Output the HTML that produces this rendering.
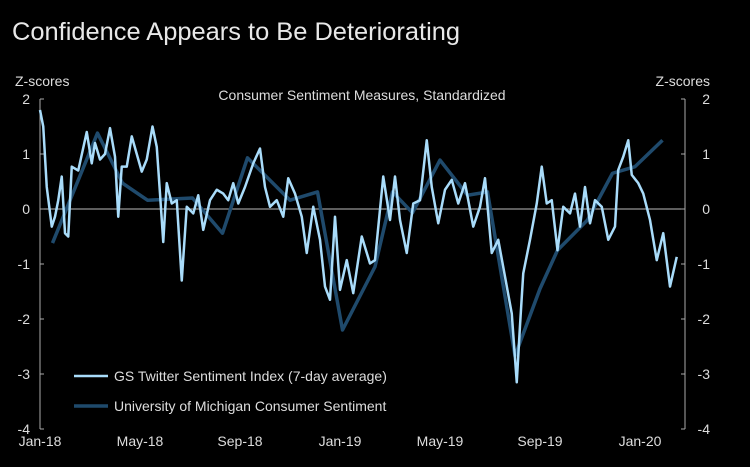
<!DOCTYPE html>
<html><head><meta charset="utf-8"><style>
body{margin:0;background:#000;}
svg{display:block;font-family:"Liberation Sans",sans-serif;}
</style></head><body>
<svg id="c" width="750" height="467" viewBox="0 0 750 467">
<rect width="750" height="467" fill="#000"/>
<text x="12" y="40" fill="#e8e8e8" font-size="25" textLength="448" lengthAdjust="spacingAndGlyphs">Confidence Appears to Be Deteriorating</text>
<text x="15" y="86" fill="#ddd" font-size="14">Z-scores</text>
<text x="710" y="86" fill="#ddd" font-size="14" text-anchor="end">Z-scores</text>
<text x="362" y="100" fill="#ddd" font-size="14" text-anchor="middle">Consumer Sentiment Measures, Standardized</text>
<g id="axes"></g>
<g id="series"></g>
<g>
<line x1="74" y1="376" x2="108" y2="376" stroke="#a9dcfa" stroke-width="2.5"/>
<text x="114" y="381" fill="#ddd" font-size="14">GS Twitter Sentiment Index (7-day average)</text>
<line x1="74" y1="406" x2="108" y2="406" stroke="#1f4a6c" stroke-width="3.5"/>
<text x="114" y="411" fill="#ddd" font-size="14">University of Michigan Consumer Sentiment</text>
</g>
</svg>
<script>
const yTicks=[2,1,0,-1,-2,-3,-4];
const xTickLabels=["Jan-18","May-18","Sep-18","Jan-19","May-19","Sep-19","Jan-20"];
const xTickMonths=[0,4,8,12,16,20,24];
const twMonths=[0,0.13,0.27,0.47,0.6,0.73,0.87,1.0,1.13,1.27,1.53,1.87,2.07,2.2,2.4,2.6,2.8,3.0,3.13,3.27,3.47,3.67,3.87,4.07,4.27,4.5,4.67,4.8,4.93,5.07,5.27,5.47,5.67,5.87,6.13,6.33,6.53,6.8,7.07,7.33,7.53,7.73,7.93,8.2,8.53,8.8,9.0,9.2,9.47,9.73,9.93,10.2,10.47,10.67,10.93,11.2,11.4,11.6,11.8,12.0,12.27,12.53,12.87,13.2,13.4,13.73,14.0,14.2,14.4,14.67,14.93,15.2,15.47,15.67,15.93,16.2,16.47,16.73,17.0,17.33,17.6,17.8,18.07,18.33,18.6,18.87,19.07,19.2,19.33,19.6,19.87,20.07,20.27,20.47,20.7,20.93,21.2,21.4,21.6,21.8,22.0,22.2,22.47,22.73,23.0,23.13,23.33,23.53,23.67,23.93,24.13,24.4,24.67,24.93,25.2,25.47];
const twValues=[1.8,1.5,0.4,-0.32,-0.14,0.16,0.59,-0.44,-0.5,0.77,0.7,1.4,0.83,1.2,0.9,1.0,1.47,0.95,-0.14,0.77,0.77,1.32,1.0,0.68,0.9,1.5,1.13,0.28,-0.6,0.47,0.1,0.16,-1.3,0.04,-0.08,0.25,-0.38,0.16,0.35,0.28,0.16,0.47,0.1,0.4,0.83,1.1,0.4,0.04,0.16,-0.14,0.56,0.28,-0.14,-0.8,0.04,-0.56,-1.41,-1.65,-0.14,-1.47,-0.93,-1.53,-0.5,-0.99,-0.93,0.59,-0.2,0.59,-0.2,-0.8,0.1,0.16,1.25,0.4,-0.26,0.35,0.53,0.1,0.47,-0.32,0.04,0.56,-0.8,-0.56,-1.23,-1.9,-3.15,-2.12,-1.17,-0.56,0.1,0.77,0.1,0.16,-0.75,0.04,-0.08,0.28,-0.32,0.4,-0.26,0.16,0.04,-0.56,-0.32,0.71,0.95,1.25,0.62,0.47,0.28,-0.2,-0.93,-0.44,-1.41,-0.87];
const umMonths=[0.5,2.3,3.3,4.3,6.1,7.3,8.3,10,11.1,12.1,13.4,14.1,14.9,16,17.1,17.9,19,20,20.7,21.9,22.9,23.8,24.9];
const umValues=[-0.62,1.38,0.47,0.16,0.2,-0.44,0.93,0.16,0.31,-2.2,-1.05,0.31,-0.07,0.89,0.25,0.31,-2.67,-1.45,-0.75,-0.2,0.65,0.77,1.25];
const X=m=>40+m*25;
const Y=v=>209-v*55;
const NS="http://www.w3.org/2000/svg";
const axes=document.getElementById('axes'),ser=document.getElementById('series');
function mk(tag,attrs,parent){const e=document.createElementNS(NS,tag);for(const k in attrs)e.setAttribute(k,attrs[k]);parent.appendChild(e);return e;}
let e;
e=mk('line',{x1:40,y1:Y(2),x2:40,y2:Y(-4),stroke:'#aaa','stroke-width':1},axes);


e=mk('line',{x1:685,y1:Y(2),x2:685,y2:Y(-4),stroke:'#aaa','stroke-width':1},axes);


e=mk('line',{x1:40,y1:Y(0),x2:685,y2:Y(0),stroke:'#bbb','stroke-width':1},axes);


yTicks.forEach(t=>{
 mk('line',{x1:40,y1:Y(t),x2:44,y2:Y(t),stroke:'#aaa'},axes);
 mk('line',{x1:681,y1:Y(t),x2:685,y2:Y(t),stroke:'#aaa'},axes);
 e=mk('text',{x:30,y:Y(t)+5,fill:'#ddd','font-size':14,'text-anchor':'end'},axes);e.textContent=t;
 
 
 e=mk('text',{x:710,y:Y(t)+5,fill:'#ddd','font-size':14,'text-anchor':'end'},axes);e.textContent=t;
 
 
});
xTickLabels.forEach((l,i)=>{
 e=mk('text',{x:X(xTickMonths[i]),y:446,fill:'#ddd','font-size':14,'text-anchor':'middle'},axes);e.textContent=l;
 
 
});
e=mk('polyline',{points:umMonths.map((m,i)=>X(m)+','+Y(umValues[i])).join(' '),fill:'none',stroke:'#1f4a6c','stroke-width':3.5,'stroke-linejoin':'round'},ser);


e=mk('polyline',{points:twMonths.map((m,i)=>X(m)+','+Y(twValues[i])).join(' '),fill:'none',stroke:'#a9dcfa','stroke-width':2.5,'stroke-linejoin':'round'},ser);


</script>
</body></html>
